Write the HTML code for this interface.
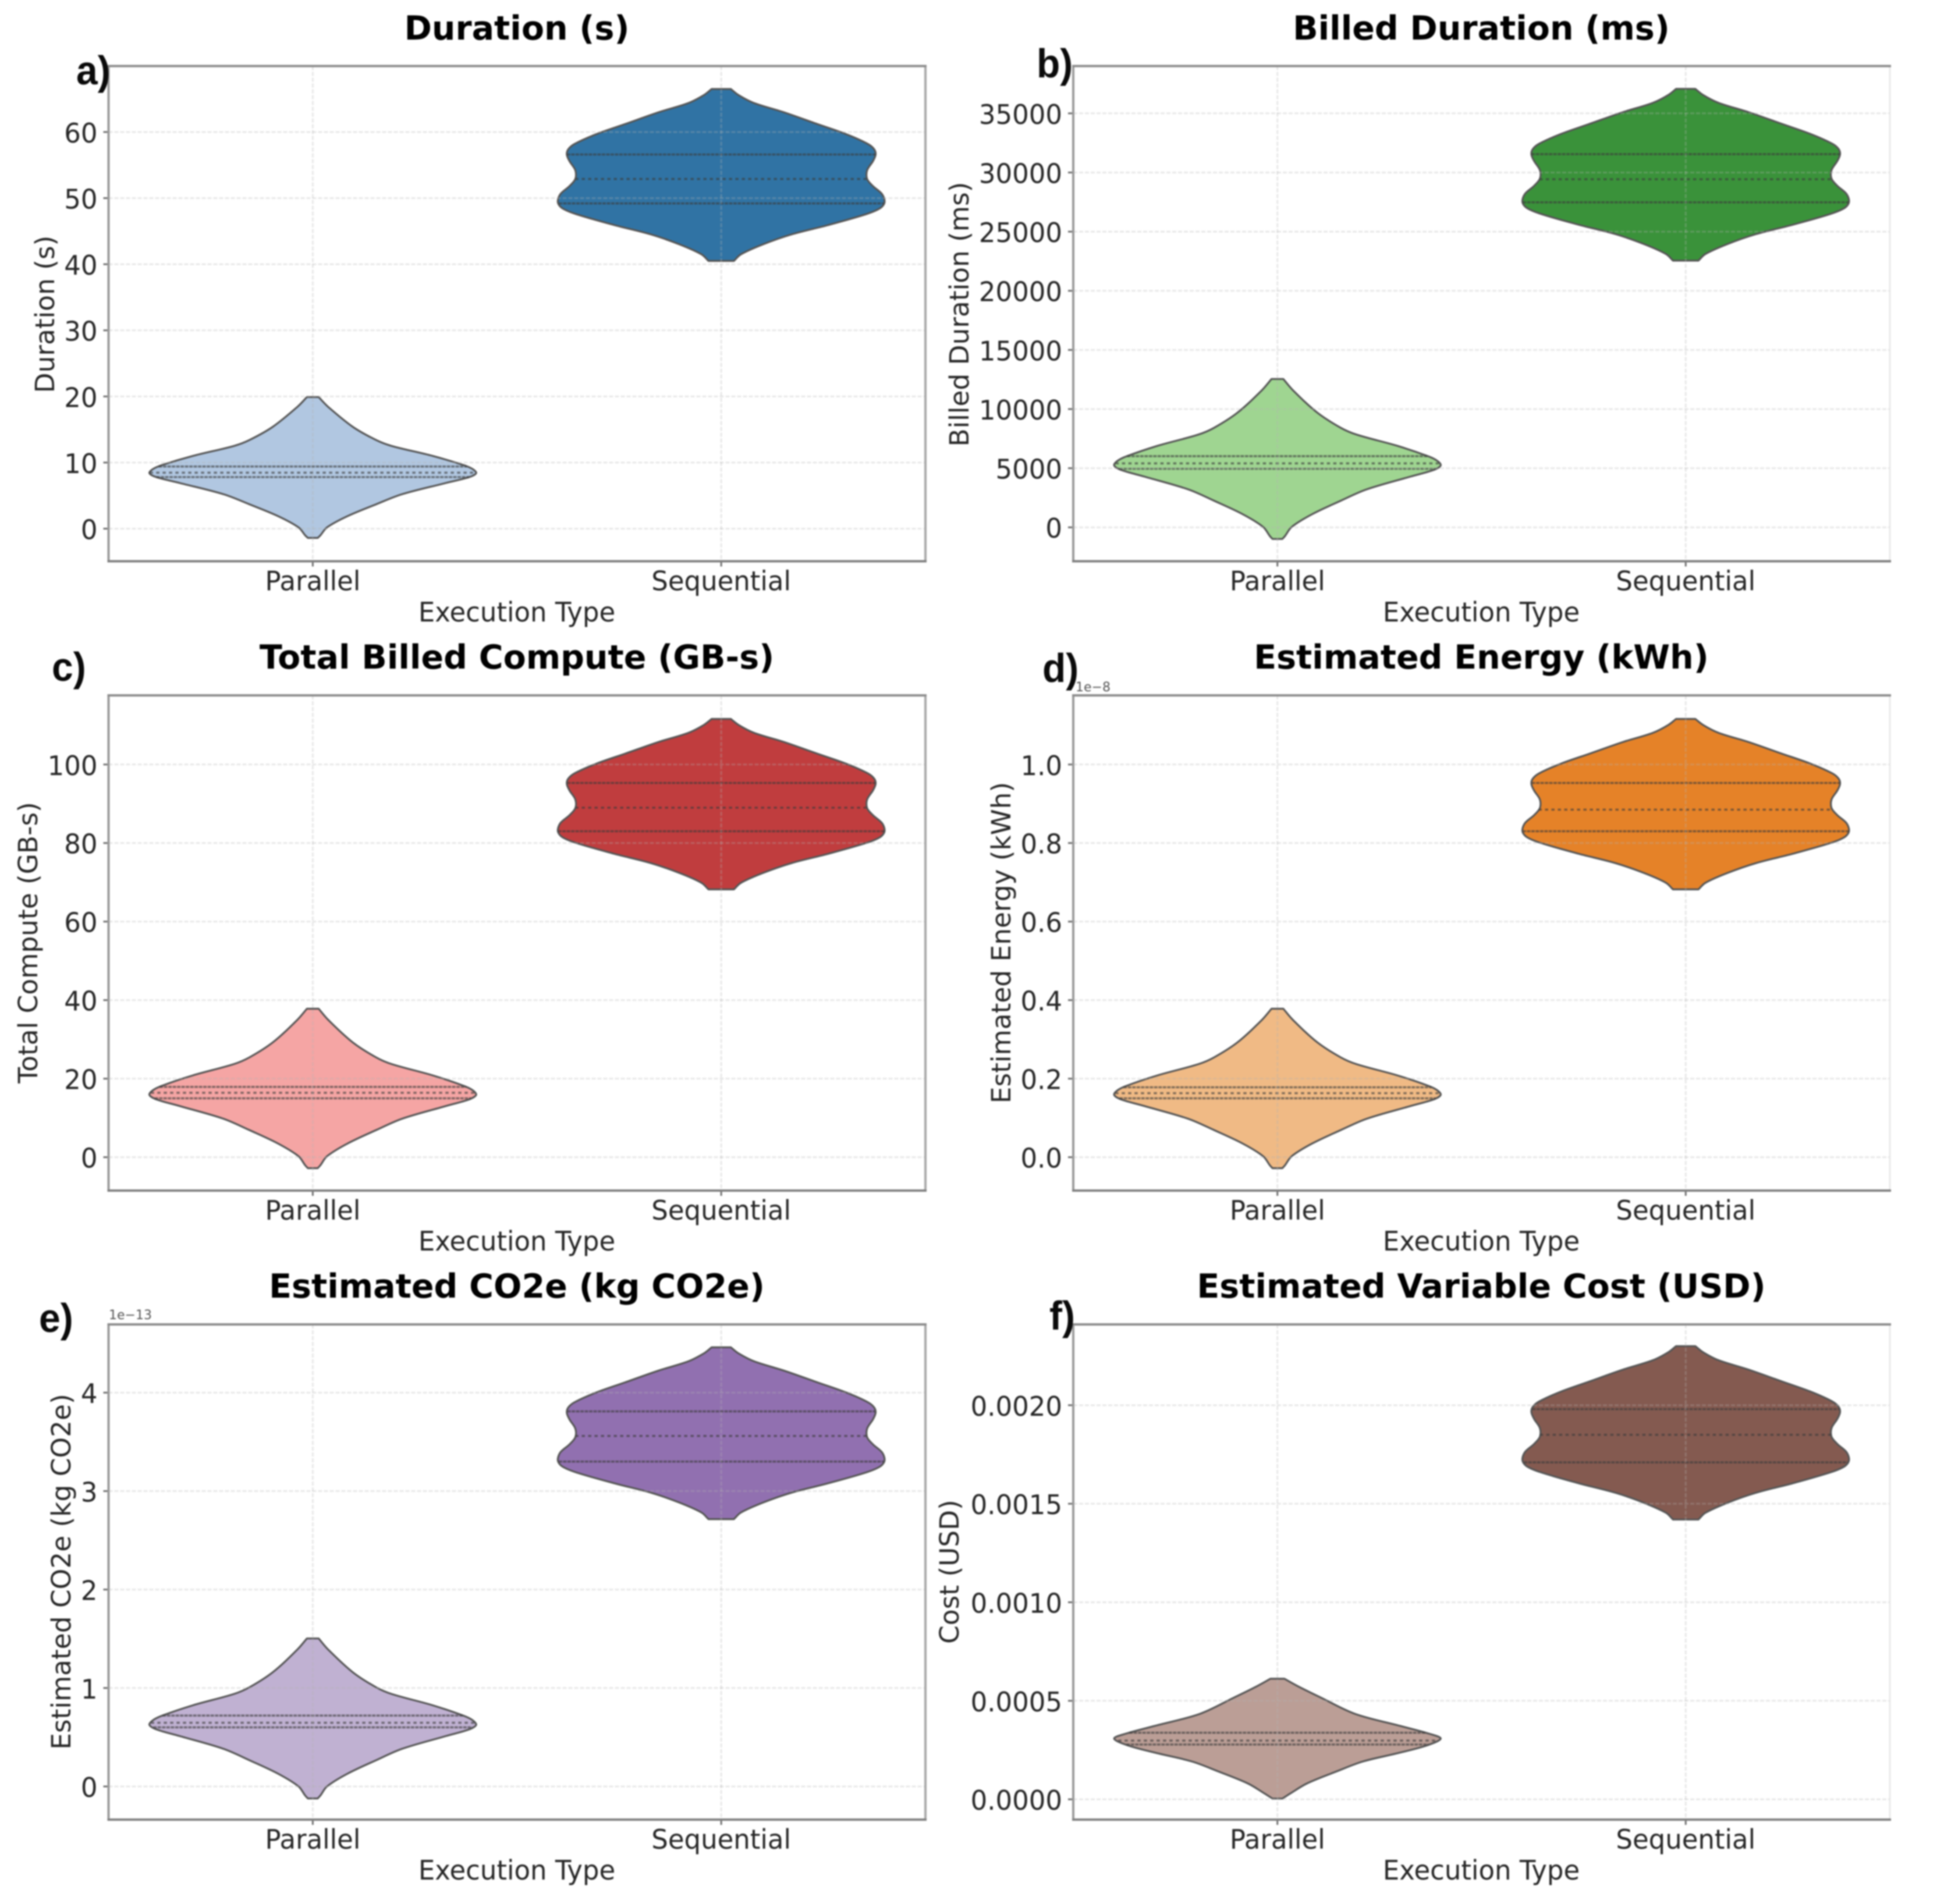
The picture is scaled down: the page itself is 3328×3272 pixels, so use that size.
<!DOCTYPE html>
<html lang="en">
<head>
<meta charset="utf-8">
<title>Violin plots: Parallel vs Sequential execution</title>
<style>
html,body{margin:0;padding:0;background:#fff;width:3328px;height:3272px;overflow:hidden}
svg{display:block;filter:blur(1.2px)}
text{font-family:"DejaVu Sans","Liberation Sans",sans-serif;fill:#262626}
.title{font-size:57px;font-weight:700;fill:#000;text-anchor:middle}
.axis-label{font-size:45px;text-anchor:middle}
.y-label{font-size:45.4px;text-anchor:middle}
.tick-label{font-size:45px}
.letter{font-family:"Liberation Sans",sans-serif;font-size:66px;font-weight:700;fill:#0a0a0a}
.offset{font-size:22px;fill:#555}
</style>
</head>
<body>
<svg id="figure" xmlns="http://www.w3.org/2000/svg" width="3328" height="3272" viewBox="0 0 3328 3272">
  <rect x="0" y="0" width="3328" height="3272" fill="#ffffff"/>
  <g id="plots"></g>

  <text class="title" x="888" y="68">Duration (s)</text>
  <text class="title" x="2545" y="68">Billed Duration (ms)</text>
  <text class="title" x="888" y="1149">Total Billed Compute (GB-s)</text>
  <text class="title" x="2545" y="1149">Estimated Energy (kWh)</text>
  <text class="title" x="888" y="2230">Estimated CO2e (kg CO2e)</text>
  <text class="title" x="2545" y="2230">Estimated Variable Cost (USD)</text>

  <text class="y-label" transform="translate(93,540) rotate(-90)">Duration (s)</text>
  <text class="y-label" transform="translate(1664,540) rotate(-90)">Billed Duration (ms)</text>
  <text class="y-label" transform="translate(64,1620) rotate(-90)">Total Compute (GB-s)</text>
  <text class="y-label" transform="translate(1736,1620) rotate(-90)">Estimated Energy (kWh)</text>
  <text class="y-label" transform="translate(121,2701) rotate(-90)">Estimated CO2e (kg CO2e)</text>
  <text class="y-label" transform="translate(1647,2701) rotate(-90)">Cost (USD)</text>

  <text class="axis-label" transform="translate(888,1068) scale(1,1.03)">Execution Type</text>
  <text class="axis-label" transform="translate(2545,1068) scale(1,1.03)">Execution Type</text>
  <text class="axis-label" transform="translate(888,2149) scale(1,1.03)">Execution Type</text>
  <text class="axis-label" transform="translate(2545,2149) scale(1,1.03)">Execution Type</text>
  <text class="axis-label" transform="translate(888,3230) scale(1,1.03)">Execution Type</text>
  <text class="axis-label" transform="translate(2545,3230) scale(1,1.03)">Execution Type</text>

  <text class="letter" transform="translate(131,145) scale(1,1.05)">a)</text>
  <text class="letter" transform="translate(1781,133) scale(1,1.05)">b)</text>
  <text class="letter" transform="translate(89,1170) scale(1,1.05)">c)</text>
  <text class="letter" transform="translate(1791,1172) scale(1,1.05)">d)</text>
  <text class="letter" transform="translate(67,2289) scale(1,1.05)">e)</text>
  <text class="letter" transform="translate(1803,2285) scale(1,1.05)">f)</text>

  <text class="offset" x="1848" y="1188">1e−8</text>
  <text class="offset" x="187" y="2267">1e−13</text>
</svg>

<script>
// Categories shared by all panels
const categories = ['Parallel', 'Sequential'];

// Shape of each violin: position from minimum (0) to maximum (1), and relative density there
const parallelShapePosition = [1, .93, .789, .695, .653, .582, .516, .488, .46, .432, .39, .31, .239, .155, .075, .019, 0];
const parallelShapeDensity = [.036, .095, .245, .388, .483, .735, .926, .98, 1, .958, .815, .546, .388, .213, .087, .047, .03];
const sequentialShapePosition = [1, .965, .919, .865, .796, .738, .681, .65, .619, .581, .527, .477, .435, .388, .342, .308, .273, .208, .154, .096, .038, 0];
const sequentialShapeDensity = [.059, .106, .2, .383, .589, .763, .897, .936, .945, .929, .893, .893, .929, .985, 1, .975, .89, .652, .43, .255, .12, .078];
const costParallelShapePosition = [1, .939, .84, .707, .607, .541, .5, .441, .375, .308, .225, .125, .041, 0];
const costParallelShapeDensity = [.043, .123, .27, .475, .75, .93, 1, .91, .725, .52, .36, .18, .078, .03];

// Panel a: Duration (s)
const durationLimits = [-4.93, 69.98];
const durationTicks = [0, 10, 20, 30, 40, 50, 60];
const durationTickLabels = ['0', '10', '20', '30', '40', '50', '60'];
const durationParallelRange = [-1.4, 19.9];
const durationParallelQuartiles = [7.8, 8.47, 9.4];
const durationSequentialRange = [40.5, 66.5];
const durationSequentialQuartiles = [49.2, 52.9, 56.6];

// Panel b: Billed Duration (ms)
const billedLimits = [-2866, 39000];
const billedTicks = [0, 5000, 10000, 15000, 20000, 25000, 30000, 35000];
const billedTickLabels = ['0', '5000', '10000', '15000', '20000', '25000', '30000', '35000'];
const billedParallelRange = [-983, 12540];
const billedParallelQuartiles = [4950, 5408, 6018];
const billedSequentialRange = [22550, 37070];
const billedSequentialQuartiles = [27480, 29430, 31550];

// Panel c: Total Billed Compute (GB-s)
const computeLimits = [-8.5, 117.6];
const computeTicks = [0, 20, 40, 60, 80, 100];
const computeTickLabels = ['0', '20', '40', '60', '80', '100'];
const computeParallelRange = [-2.8, 37.8];
const computeParallelQuartiles = [15, 16.4, 17.9];
const computeSequentialRange = [68.2, 111.6];
const computeSequentialQuartiles = [83, 89, 95.3];

// Panel d: Estimated Energy (1e-8 kWh)
const energyLimits = [-0.085, 1.176];
const energyTicks = [0, .2, .4, .6, .8, 1];
const energyTickLabels = ['0.0', '0.2', '0.4', '0.6', '0.8', '1.0'];
const energyParallelRange = [-0.028, 0.378];
const energyParallelQuartiles = [.15, .163, .178];
const energySequentialRange = [0.682, 1.116];
const energySequentialQuartiles = [.83, .885, .953];

// Panel e: Estimated CO2e (1e-13 kg)
const co2Limits = [-0.337, 4.693];
const co2Ticks = [0, 1, 2, 3, 4];
const co2TickLabels = ['0', '1', '2', '3', '4'];
const co2ParallelRange = [-0.122, 1.503];
const co2ParallelQuartiles = [.6, .647, .72];
const co2SequentialRange = [2.715, 4.46];
const co2SequentialQuartiles = [3.3, 3.56, 3.81];

// Panel f: Estimated Variable Cost (USD)
const costLimits = [-0.000103, 0.00241];
const costTicks = [0, .0005, .001, .0015, .002];
const costTickLabels = ['0.0000', '0.0005', '0.0010', '0.0015', '0.0020'];
const costParallelRange = [0.000004, 0.000612];
const costParallelQuartiles = [.000278, .000298, .000338];
const costSequentialRange = [0.00142, 0.0023];
const costSequentialQuartiles = [.00171, .00185, .00198];

const NS = 'http://www.w3.org/2000/svg';
const plots = document.getElementById('plots');
const columnLeft = [186.5, 1844];
const columnWidth = [1403.5, 1403];
const rowTop = [113.5, 1195, 2276];
const plotHeight = 851;

function make(tag, attrs, parent) {
  const el = document.createElementNS(NS, tag);
  for (const k in attrs) el.setAttribute(k, attrs[k]);
  parent.appendChild(el);
  return el;
}

function interpolateDensity(position, shapePos, shapeDens) {
  for (let i = 0; i < shapePos.length - 1; i++) {
    if (position <= shapePos[i] && position >= shapePos[i + 1]) {
      const f = (shapePos[i] - position) / (shapePos[i] - shapePos[i + 1]);
      return shapeDens[i] + f * (shapeDens[i + 1] - shapeDens[i]);
    }
  }
  return 0;
}

// Chord-length spline: tangents scale with the spacing of neighbouring outline points
function smoothThrough(pts) {
  const dist = (a, b) => Math.max(Math.hypot(a[0] - b[0], a[1] - b[1]), 0.01);
  const tangent = i => {
    const a = pts[Math.max(i - 1, 0)], b = pts[Math.min(i + 1, pts.length - 1)];
    const len = dist(a, pts[i]) + dist(pts[i], b);
    return [(b[0] - a[0]) / len, (b[1] - a[1]) / len];
  };
  let d = '';
  for (let i = 0; i < pts.length - 1; i++) {
    const seg = dist(pts[i], pts[i + 1]) / 3;
    const t1 = tangent(i), t2 = tangent(i + 1);
    const c1x = pts[i][0] + t1[0] * seg, c1y = pts[i][1] + t1[1] * seg;
    const c2x = pts[i + 1][0] - t2[0] * seg, c2y = pts[i + 1][1] - t2[1] * seg;
    d += ' C' + c1x.toFixed(1) + ' ' + c1y.toFixed(1) + ' ' + c2x.toFixed(1) + ' ' + c2y.toFixed(1) + ' ' + pts[i + 1][0].toFixed(1) + ' ' + pts[i + 1][1].toFixed(1);
  }
  return d;
}

function drawViolin(group, name, cx, halfWidth, yScale, range, quartiles, shapePos, shapeDens, fill) {
  const span = range[1] - range[0];
  const right = shapePos.map((t, i) => [cx + shapeDens[i] * halfWidth, yScale(range[0] + t * span)]);
  const left = right.map(p => [2 * cx - p[0], p[1]]).reverse();
  const d = 'M' + right[0][0].toFixed(1) + ' ' + right[0][1].toFixed(1) + smoothThrough(right) +
    ' L' + left[0][0].toFixed(1) + ' ' + left[0][1].toFixed(1) + smoothThrough(left) + ' Z';
  const body = make('path', {d: d, fill: fill, stroke: '#555555', 'stroke-width': 3.2, 'stroke-linejoin': 'round'}, group);
  
  
  quartiles.forEach((q, i) => {
    const y = yScale(q);
    const hw = interpolateDensity((q - range[0]) / span, shapePos, shapeDens) * halfWidth;
    const line = make('line', {
      x1: cx - hw, x2: cx + hw, y1: y, y2: y,
      stroke: '#3c3c3c', 'stroke-opacity': .62, 'stroke-width': 3.6,
      'stroke-dasharray': i === 1 ? '5.5,5.5' : '6,1.5'
    }, group);
    
    
  });
}

function drawPanel(p) {
  const L = columnLeft[p.col], W = columnWidth[p.col], T = rowTop[p.row], B = T + plotHeight, R = L + W;
  const yScale = v => B - (v - p.limits[0]) / (p.limits[1] - p.limits[0]) * plotHeight;
  const xScale = i => L + (i + 0.5) / 2 * W;
  const g = make('g', {}, plots);
  
  

  const halfWidth = 0.4 * W / 2;
  drawViolin(g, p.key + '-parallel', xScale(0), halfWidth, yScale, p.parallelRange, p.parallelQuartiles, p.parallelPos, p.parallelDens, p.lightColor);
  drawViolin(g, p.key + '-sequential', xScale(1), halfWidth, yScale, p.sequentialRange, p.sequentialQuartiles, sequentialShapePosition, sequentialShapeDensity, p.darkColor);

  p.ticks.forEach((v, i) => {
    const y = yScale(v);
    const grid = make('line', {x1: L, x2: R, y1: y, y2: y, stroke: '#b4b4b4', 'stroke-opacity': .3, 'stroke-width': 3, 'stroke-dasharray': '7,3'}, g);
    
    
    const tick = make('line', {x1: L - 9, x2: L, y1: y, y2: y, stroke: '#707070', 'stroke-width': 3}, g);
    
    
    const label = make('text', {class: 'tick-label', 'text-anchor': 'end', transform: 'translate(' + (L - 19) + ',' + (y + 18) + ') scale(1,1.03)'}, g);
    
    
    label.textContent = p.tickLabels[i];
  });

  categories.forEach((c, i) => {
    const x = xScale(i);
    const grid = make('line', {x1: x, x2: x, y1: T, y2: B, stroke: '#b4b4b4', 'stroke-opacity': .3, 'stroke-width': 3, 'stroke-dasharray': '7,3'}, g);
    
    
    const tick = make('line', {x1: x, x2: x, y1: B, y2: B + 9, stroke: '#707070', 'stroke-width': 3}, g);
    
    
    const label = make('text', {class: 'tick-label', 'text-anchor': 'middle', transform: 'translate(' + x + ',' + (B + 50) + ') scale(1,1.03)'}, g);
    
    
    label.textContent = c;
  });

  const rightSpine = make('line', {x1: R, x2: R, y1: T, y2: B, stroke: p.col === 0 ? '#a8a8a8' : '#e6e6e6', 'stroke-width': p.col === 0 ? 4 : 2.5}, g);
  
  
  const leftSpine = make('line', {x1: L, x2: L, y1: T, y2: B, stroke: '#9a9a9a', 'stroke-width': 4}, g);
  
  
  const topSpine = make('line', {x1: L - 2, x2: R + 2, y1: T, y2: T, stroke: '#8c8c8c', 'stroke-width': 4}, g);
  
  
  const bottomSpine = make('line', {x1: L - 2, x2: R + 2, y1: B, y2: B, stroke: '#808080', 'stroke-width': 4}, g);
  
  
}

const panels = [
  {key: 'duration', col: 0, row: 0, limits: durationLimits, ticks: durationTicks, tickLabels: durationTickLabels,
   parallelRange: durationParallelRange, parallelQuartiles: durationParallelQuartiles,
   sequentialRange: durationSequentialRange, sequentialQuartiles: durationSequentialQuartiles,
   parallelPos: parallelShapePosition, parallelDens: parallelShapeDensity, lightColor: '#b1c7e1', darkColor: '#3073a4'},
  {key: 'billed-duration', col: 1, row: 0, limits: billedLimits, ticks: billedTicks, tickLabels: billedTickLabels,
   parallelRange: billedParallelRange, parallelQuartiles: billedParallelQuartiles,
   sequentialRange: billedSequentialRange, sequentialQuartiles: billedSequentialQuartiles,
   parallelPos: parallelShapePosition, parallelDens: parallelShapeDensity, lightColor: '#9fd591', darkColor: '#3a923a'},
  {key: 'billed-compute', col: 0, row: 1, limits: computeLimits, ticks: computeTicks, tickLabels: computeTickLabels,
   parallelRange: computeParallelRange, parallelQuartiles: computeParallelQuartiles,
   sequentialRange: computeSequentialRange, sequentialQuartiles: computeSequentialQuartiles,
   parallelPos: parallelShapePosition, parallelDens: parallelShapeDensity, lightColor: '#f5a5a4', darkColor: '#c03d3e'},
  {key: 'energy', col: 1, row: 1, limits: energyLimits, ticks: energyTicks, tickLabels: energyTickLabels,
   parallelRange: energyParallelRange, parallelQuartiles: energyParallelQuartiles,
   sequentialRange: energySequentialRange, sequentialQuartiles: energySequentialQuartiles,
   parallelPos: parallelShapePosition, parallelDens: parallelShapeDensity, lightColor: '#f0ba85', darkColor: '#e58228'},
  {key: 'co2e', col: 0, row: 2, limits: co2Limits, ticks: co2Ticks, tickLabels: co2TickLabels,
   parallelRange: co2ParallelRange, parallelQuartiles: co2ParallelQuartiles,
   sequentialRange: co2SequentialRange, sequentialQuartiles: co2SequentialQuartiles,
   parallelPos: parallelShapePosition, parallelDens: parallelShapeDensity, lightColor: '#c0b1d2', darkColor: '#9170b0'},
  {key: 'cost', col: 1, row: 2, limits: costLimits, ticks: costTicks, tickLabels: costTickLabels,
   parallelRange: costParallelRange, parallelQuartiles: costParallelQuartiles,
   sequentialRange: costSequentialRange, sequentialQuartiles: costSequentialQuartiles,
   parallelPos: costParallelShapePosition, parallelDens: costParallelShapeDensity, lightColor: '#bb9e96', darkColor: '#845a50'}
];
panels.forEach(drawPanel);
</script>
</body>
</html>
